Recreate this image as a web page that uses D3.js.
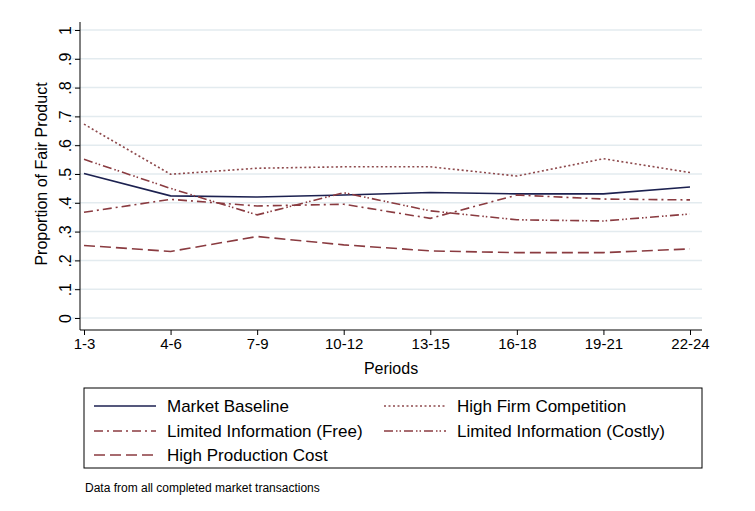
<!DOCTYPE html><html><head><meta charset="utf-8"><script src="https://cdn.jsdelivr.net/npm/d3@7"></script>
<style>body{margin:0;background:#fff}text{font-family:"Liberation Sans",Arial,sans-serif}</style></head><body><svg id="c" width="755" height="511"></svg><script>
const periods=["1-3","4-6","7-9","10-12","13-15","16-18","19-21","22-24"];
const yTicks=[0,.1,.2,.3,.4,.5,.6,.7,.8,.9,1];
const baseline=[0.502,0.424,0.42,0.427,0.436,0.431,0.431,0.455];
const highComp=[0.673,0.499,0.52,0.525,0.525,0.493,0.553,0.505];
const limFree=[0.367,0.412,0.389,0.395,0.346,0.427,0.413,0.41];
const limCostly=[0.551,0.45,0.358,0.435,0.372,0.341,0.337,0.361];
const highCost=[0.252,0.231,0.283,0.254,0.233,0.227,0.227,0.24];
const series=[
 {name:"Market Baseline",v:baseline,c:"#1c2150",d:null},
 {name:"High Firm Competition",v:highComp,c:"#8e4a4d",d:"2,2.5"},
 {name:"Limited Information (Free)",v:limFree,c:"#8a3b40",d:"9,4,2,4"},
 {name:"Limited Information (Costly)",v:limCostly,c:"#8a3b40",d:"9,3,1.5,2,1.5,3"},
 {name:"High Production Cost",v:highCost,c:"#8a3b40",d:"11,5"}];
const svg=d3.select("#c");
const x=d3.scalePoint().domain(periods).range([84,690]);
const y=d3.scaleLinear().domain([0,1]).range([318,30]);
svg.append("g").selectAll("line").data(yTicks).join("line").attr("x1",72).attr("x2",702).attr("y1",d=>y(d)).attr("y2",d=>y(d)).attr("stroke","#e3ebef").attr("stroke-width",1.5);
svg.append("g").attr("transform","translate(80,0)").call(d3.axisLeft(y).tickValues(yTicks).tickSize(5).tickFormat(d=>d==0?"0":d==1?"1":d3.format(".1f")(d).replace("0.","."))).call(a=>{a.select(".domain").remove();a.selectAll("text").attr("transform","rotate(-90)").attr("x",0).attr("y",-9).attr("dy",0).attr("text-anchor","middle").style("font-size","16px").attr("fill","#000");});
svg.append("line").attr("x1",80).attr("x2",80).attr("y1",22).attr("y2",330).attr("stroke","#000");
svg.append("g").attr("transform","translate(0,330)").call(d3.axisBottom(x).tickSize(5)).call(a=>{a.select(".domain").attr("d","M80,0H702");a.selectAll("text").style("font-size","15px").attr("fill","#000");});
svg.append("text").attr("x",391).attr("y",374).attr("text-anchor","middle").style("font-size","16px").text("Periods");
svg.append("text").attr("transform","translate(47,174) rotate(-90)").attr("text-anchor","middle").style("font-size","16px").text("Proportion of Fair Product");
const line=d3.line().x((d,i)=>x(periods[i])).y(d=>y(d));
series.forEach(s=>svg.append("path").attr("d",line(s.v)).attr("fill","none").attr("stroke",s.c).attr("stroke-width",1.6).attr("stroke-dasharray",s.d));
svg.append("rect").attr("x",84).attr("y",388).attr("width",618).attr("height",80).attr("fill","none").attr("stroke","#000");
const pos=[[94,406],[384,406],[94,431],[384,431],[94,455]];
series.forEach((s,i)=>{const [lx,ly]=pos[i];
 svg.append("line").attr("x1",lx).attr("x2",lx+62).attr("y1",ly).attr("y2",ly).attr("stroke",s.c).attr("stroke-width",1.6).attr("stroke-dasharray",s.d);
 svg.append("text").attr("x",lx+73).attr("y",ly+6).style("font-size","17px").text(s.name);});
svg.append("text").attr("x",85).attr("y",492).style("font-size","12px").text("Data from all completed market transactions");
</script></body></html>
